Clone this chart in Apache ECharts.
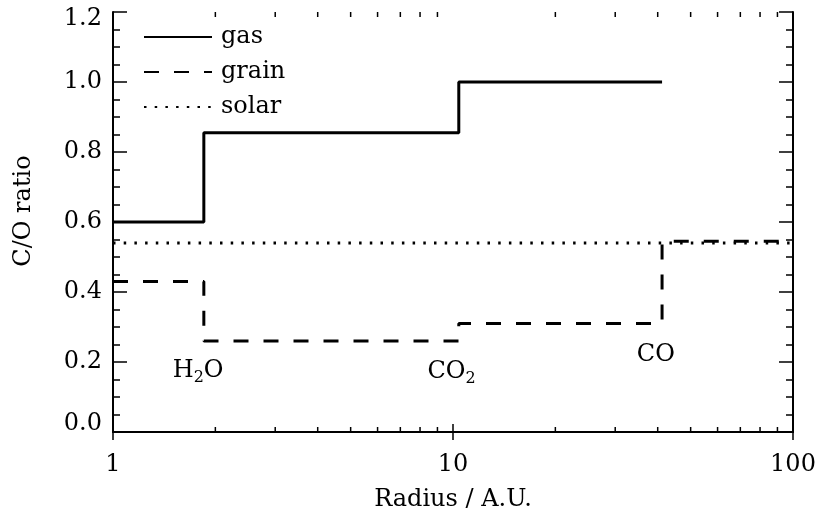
<!DOCTYPE html>
<html>
<head>
<meta charset="utf-8">
<script src="https://cdn.jsdelivr.net/npm/echarts@6/dist/echarts.min.js"></script>
<style>
html, body { margin: 0; padding: 0; background: #fff; }
#main { width: 821px; height: 511px; }
</style>
</head>
<body>
<div id="main"></div>
<script>
// snowline radii (A.U.) and C/O ratio steps
var gasX = [1, 1.85, 10.4, 41.2];
var gasY = [0.6, 0.855, 1.0, 1.0];
var grainX = [1, 1.85, 10.4, 41.2, 100];
var grainY = [0.43, 0.26, 0.31, 0.545, 0.545];
var solarX = [1, 100];
var solarY = [0.54, 0.54];

// snowline labels
var lineLabels = [
    [1.78, 0.175, 'H{s|2}O'],
    [9.9, 0.172, 'CO{s|2}'],
    [39.5, 0.22, 'CO']
];

// minor ticks on log axis
var minorX = [2, 3, 4, 5, 6, 7, 8, 9, 20, 30, 40, 50, 60, 70, 80, 90];

var FONT = 'DejaVu Serif';

function pairs(xs, ys) {
    var out = [];
    for (var i = 0; i < xs.length; i++) out.push([xs[i], ys[i]]);
    return out;
}

var myChart = echarts.init(document.getElementById('main'));

var xBase = {
    type: 'log',
    logBase: 10,
    min: 1,
    max: 100,
    splitLine: { show: false },
    axisLine: { lineStyle: { color: '#000', width: 2 } },
    axisTick: { inside: true, length: 8, lineStyle: { color: '#000', width: 1.5 } }
};

var yBase = {
    type: 'value',
    min: 0,
    max: 1.2,
    interval: 0.2,
    splitLine: { show: false },
    axisLine: { show: true, lineStyle: { color: '#000', width: 2 } },
    axisTick: { inside: true, length: 14, lineStyle: { color: '#000', width: 1.5 } },
    minorTick: { show: true, splitNumber: 4, length: 7, lineStyle: { color: '#000', width: 1.5 } }
};

var labelFont = { fontFamily: FONT, fontSize: 24, color: '#000' };

option = {
    animation: false,
    backgroundColor: '#fff',
    grid: { left: 113, right: 28, top: 12, bottom: 79, outerBoundsMode: 'none', containLabel: false },
    legend: {
        orient: 'vertical',
        left: 138,
        top: 20,
        itemWidth: 68,
        itemHeight: 14,
        itemGap: 11,
        data: ['gas', 'grain', 'solar'],
        itemStyle: { opacity: 0 },
        textStyle: { fontFamily: FONT, fontSize: 24, color: '#000', padding: [0, 0, 0, 4] }
    },
    xAxis: [
        Object.assign({}, xBase, {
            position: 'bottom',
            name: 'Radius / A.U.',
            nameLocation: 'middle',
            nameGap: 56,
            nameTextStyle: labelFont,
            axisLabel: Object.assign({ margin: 21 }, labelFont)
        }),
        Object.assign({}, xBase, {
            position: 'top',
            axisLabel: { show: false }
        })
    ],
    yAxis: [
        Object.assign({}, yBase, {
            position: 'left',
            name: 'C/O ratio',
            nameLocation: 'middle',
            nameGap: 77,
            nameTextStyle: Object.assign({ padding: [0, 0, 0, 22] }, labelFont),
            axisLabel: Object.assign({
                margin: 11,
                formatter: function (v) {
                    var s = v.toFixed(1);
                    if (v === 0) return '{lo|' + s + '}';
                    if (v >= 1.2) return '{hi|' + s + '}';
                    return s;
                },
                rich: {
                    lo: Object.assign({ padding: [0, 0, 16, 0] }, labelFont),
                    hi: Object.assign({ padding: [14, 0, 0, 0] }, labelFont)
                }
            }, labelFont)
        }),
        Object.assign({}, yBase, {
            position: 'right',
            axisLabel: { show: false }
        })
    ],
    series: [{
        name: 'gas',
        type: 'line',
        step: 'end',
        symbol: 'none',
        data: pairs(gasX, gasY),
        lineStyle: { color: '#000', width: 3 },
        itemStyle: { color: '#000' }
    }, {
        name: 'grain',
        type: 'line',
        step: 'end',
        symbol: 'none',
        data: pairs(grainX, grainY),
        lineStyle: { color: '#000', width: 3, type: [15, 15] },
        itemStyle: { color: '#000' }
    }, {
        name: 'solar',
        type: 'line',
        symbol: 'none',
        data: pairs(solarX, solarY),
        lineStyle: { color: '#000', width: 3, type: [2.5, 8.2] },
        itemStyle: { color: '#000' }
    }, {
        name: 'labels',
        type: 'scatter',
        symbolSize: 0,
        silent: true,
        data: lineLabels,
        itemStyle: { opacity: 1, color: '#000' },
        label: {
            show: true,
            position: 'inside',
            formatter: function (p) { return p.data[2]; },
            fontFamily: FONT,
            fontSize: 24,
            color: '#000',
            opacity: 1,
            rich: {
                s: { fontFamily: FONT, fontSize: 16, color: '#000', padding: [15, 0, 0, 0] }
            }
        }
    }, {
        name: 'minorTicks',
        type: 'custom',
        silent: true,
        data: minorX,
        renderItem: function (params, api) {
            var v = api.value(0);
            var b = api.coord([v, 0]);
            var t = api.coord([v, 1.2]);
            var style = { stroke: '#000', lineWidth: 1.5 };
            return {
                type: 'group',
                children: [
                    { type: 'line', shape: { x1: b[0], y1: b[1], x2: b[0], y2: b[1] - 5 }, style: style },
                    { type: 'line', shape: { x1: t[0], y1: t[1], x2: t[0], y2: t[1] + 5 }, style: style }
                ]
            };
        },
        encode: { x: 0 }
    }]
};

myChart.setOption(option);
</script>
</body>
</html>
